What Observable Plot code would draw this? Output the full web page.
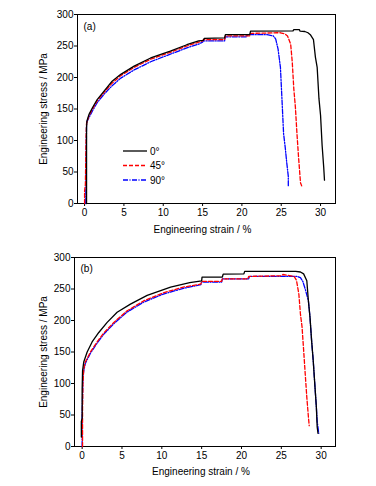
<!DOCTYPE html>
<html>
<head>
<meta charset="utf-8">
<script src="https://cdn.jsdelivr.net/npm/d3@7"></script>
<script src="https://cdn.jsdelivr.net/npm/@observablehq/plot@0.6"></script>
<style>
  html, body { margin: 0; padding: 0; background: #fff; }
  .panel { position: relative; width: 376px; height: 243px; }
  .panel svg { display: block; overflow: visible; }
  .legend { position: absolute; left: 0; top: 0; }
</style>
</head>
<body>
<div id="pa" class="panel"></div>
<div id="pb" class="panel"></div>
<script>
// ---------- data ----------
const seriesNames = ["0°", "45°", "90°"];
const xTicks = [0, 5, 10, 15, 20, 25, 30];
const yTicks = [0, 50, 100, 150, 200, 250, 300];
const panelLabels = ["(a)", "(b)"];
const xTitle = "Engineering strain / %";
const yTitle = "Engineering stress / MPa";

// panel (a)
const a0_strain = [0.25,0.25,0.25,0.3,0.55,1.0,1.6,2.45,3.5,4.6,6.3,8.4,10.9,13,14.5,15.1,15.2,17.8,17.9,21.0,21.1,26.5,26.6,27.3,27.4,28.0,28.4,28.7,29.1,29.35,29.57,29.8,30.0,30.2,30.4,30.5];
const a0_stress = [0,60,120,131,141,152,165,178,194,205,218,231,242,252,258,259,262,263,268,268,273.5,274,276,276,273.5,273,271,268,260,232,216,166,140,92,58,37];
const a45_strain = [0.0,0.0,0.1,0.2,0.25,0.55,1.0,1.6,2.45,3.5,4.6,6.3,8.4,10.9,13,14.5,15.0,15.1,17.8,17.9,21.0,21.1,24.5,24.9,25.5,25.8,26.2,26.4,26.6,26.8,27.0,27.2,27.45,27.6];
const a45_stress = [0,20,30,110,127,139,150,163,176,191,203,216,229,240,250,256,258,260,260,266,266,270,271,271,269,266,253,225,182,153,111,74,33,28];
const a90_strain = [0.15,0.2,0.25,0.3,0.55,1.0,1.6,2.45,3.5,4.6,6.3,8.4,10.9,13,14.5,15.0,15.1,17.8,17.9,20.6,20.7,23.2,24.0,24.3,24.6,24.9,25.1,25.3,25.5,25.7,25.9,25.9];
const a90_stress = [0,75,125,130,136,147,160,173,187,199,212,225,237,247,253,256,258,258,264.6,264.6,268,268,266,261,245,216,164,111,90,65,43,27];

// panel (b)
const b0_strain = [-0.1,-0.1,0.0,0.0,0.05,0.2,0.63,1.25,2.09,3.14,4.39,6.06,8.16,11.1,13.5,15.0,15.05,17.6,17.7,20.3,20.4,26.8,27.4,27.8,28.2,28.4,28.6,28.8,29.0,29.2,29.4,29.5,29.6];
const b0_stress = [15,40,45,90,120,134,150,166,181,197,213,226,240,253,260,263,269,269,273.5,274,278,278,277,274,263,231,205,168,137,99,62,31,21];
const b45_strain = [0.05,0.05,0.1,0.2,0.4,1.04,1.88,2.7,3.98,5.6,7.7,10.2,12.7,14.6,14.9,15.0,17.5,17.6,20.8,20.9,25.0,25.2,26.6,26.9,27.2,27.4,27.6,27.8,28.0,28.2,28.4,28.5];
const b45_stress = [0,60,100,123,134,150,166,180,197,215,231,244,253,257,258,262,262,266,266,270,271,273,270,264,242,210,190,153,115,78,47,33];
const b90_strain = [0.0,0.0,0.1,0.2,0.4,1.04,1.88,2.7,3.98,5.6,7.7,10.2,12.7,14.6,14.9,15.0,17.5,17.6,20.9,21.0,27.0,27.4,27.7,28.0,28.4,28.6,28.8,29.0,29.2,29.4,29.5,29.7];
const b90_stress = [0,50,110,120,132,148,164,178,195,213,229,242,251,256,257,261,261,266,266,270,270,268,262,250,231,205,168,137,99,62,40,21];

// ---------- styles ----------
const seriesStyle = [
  {stroke: "#000000", dash: null},
  {stroke: "#ff0000", dash: "4,2"},
  {stroke: "#0000ff", dash: "5,1.5,1,1.5"}
];
const FONT = "'Liberation Sans', Arial, Helvetica, sans-serif";

function toRows(xs, ys) { return xs.map((x, i) => ({x, y: ys[i]})); }

function makePanel(el, label, curves, opt) {
  const marks = [
    Plot.frame({stroke: "#000", strokeWidth: 1}),
    Plot.axisX({ticks: xTicks, tickSize: 3, tickPadding: 2, tickFormat: d3.format("d"), label: null}),
    Plot.text([xTitle], {frameAnchor: "bottom", dx: -4, dy: opt.xTitleDy, lineAnchor: "middle", fontSize: 10}),
    Plot.axisY({ticks: yTicks, tickSize: 3, tickPadding: 1, tickFormat: d3.format("d"),
      label: yTitle, labelAnchor: "center", labelArrow: "none", labelOffset: opt.yLabelOffset, fontSize: 10}),
    Plot.text([label], {frameAnchor: "top-left", dx: 6, dy: opt.labelDy, textAnchor: "start", lineAnchor: "middle", fontSize: 10})
  ];
  [2, 1, 0].forEach(i => {
    const s = seriesStyle[i];
    marks.push(Plot.line(curves[i], {x: "x", y: "y", stroke: s.stroke, strokeWidth: 1.3, strokeDasharray: s.dash}));
  });
  const svg = Plot.plot({
    width: 376,
    height: 243,
    marginLeft: opt.left,
    marginRight: 41,
    marginTop: 14,
    marginBottom: 40,
    x: {domain: opt.xdom},
    y: {domain: [0, 300]},
    style: {fontFamily: FONT, fontSize: "10px", color: "#000", background: "#fff"},
    marks
  });
  el.appendChild(svg);
}

makePanel(document.getElementById("pa"), panelLabels[0], [
  toRows(a0_strain, a0_stress), toRows(a45_strain, a45_stress), toRows(a90_strain, a90_stress)
], {left: 77, xdom: [-0.9, 31.9], xTitleDy: 26, yLabelOffset: 38, labelDy: 12});

makePanel(document.getElementById("pb"), panelLabels[1], [
  toRows(b0_strain, b0_stress), toRows(b45_strain, b45_stress), toRows(b90_strain, b90_stress)
], {left: 74, xdom: [-0.96, 31.8], xTitleDy: 25, yLabelOffset: 35, labelDy: 11});

// legend in panel (a)
const leg = d3.select("#pa").append("svg")
  .attr("class", "legend").attr("width", 376).attr("height", 243)
  .style("pointer-events", "none");
seriesNames.forEach((name, i) => {
  const y = 151 + i * 14.5;
  const s = seriesStyle[i];
  leg.append("line").attr("x1", 123).attr("x2", 147).attr("y1", y).attr("y2", y)
    .attr("stroke", s.stroke).attr("stroke-width", 1.3)
    .attr("stroke-dasharray", s.dash);
  leg.append("text").attr("x", 150).attr("y", y).attr("dy", "0.35em")
    .attr("font-family", FONT).attr("font-size", 10).attr("fill", "#000")
    .text(name);
});
</script>
</body>
</html>
